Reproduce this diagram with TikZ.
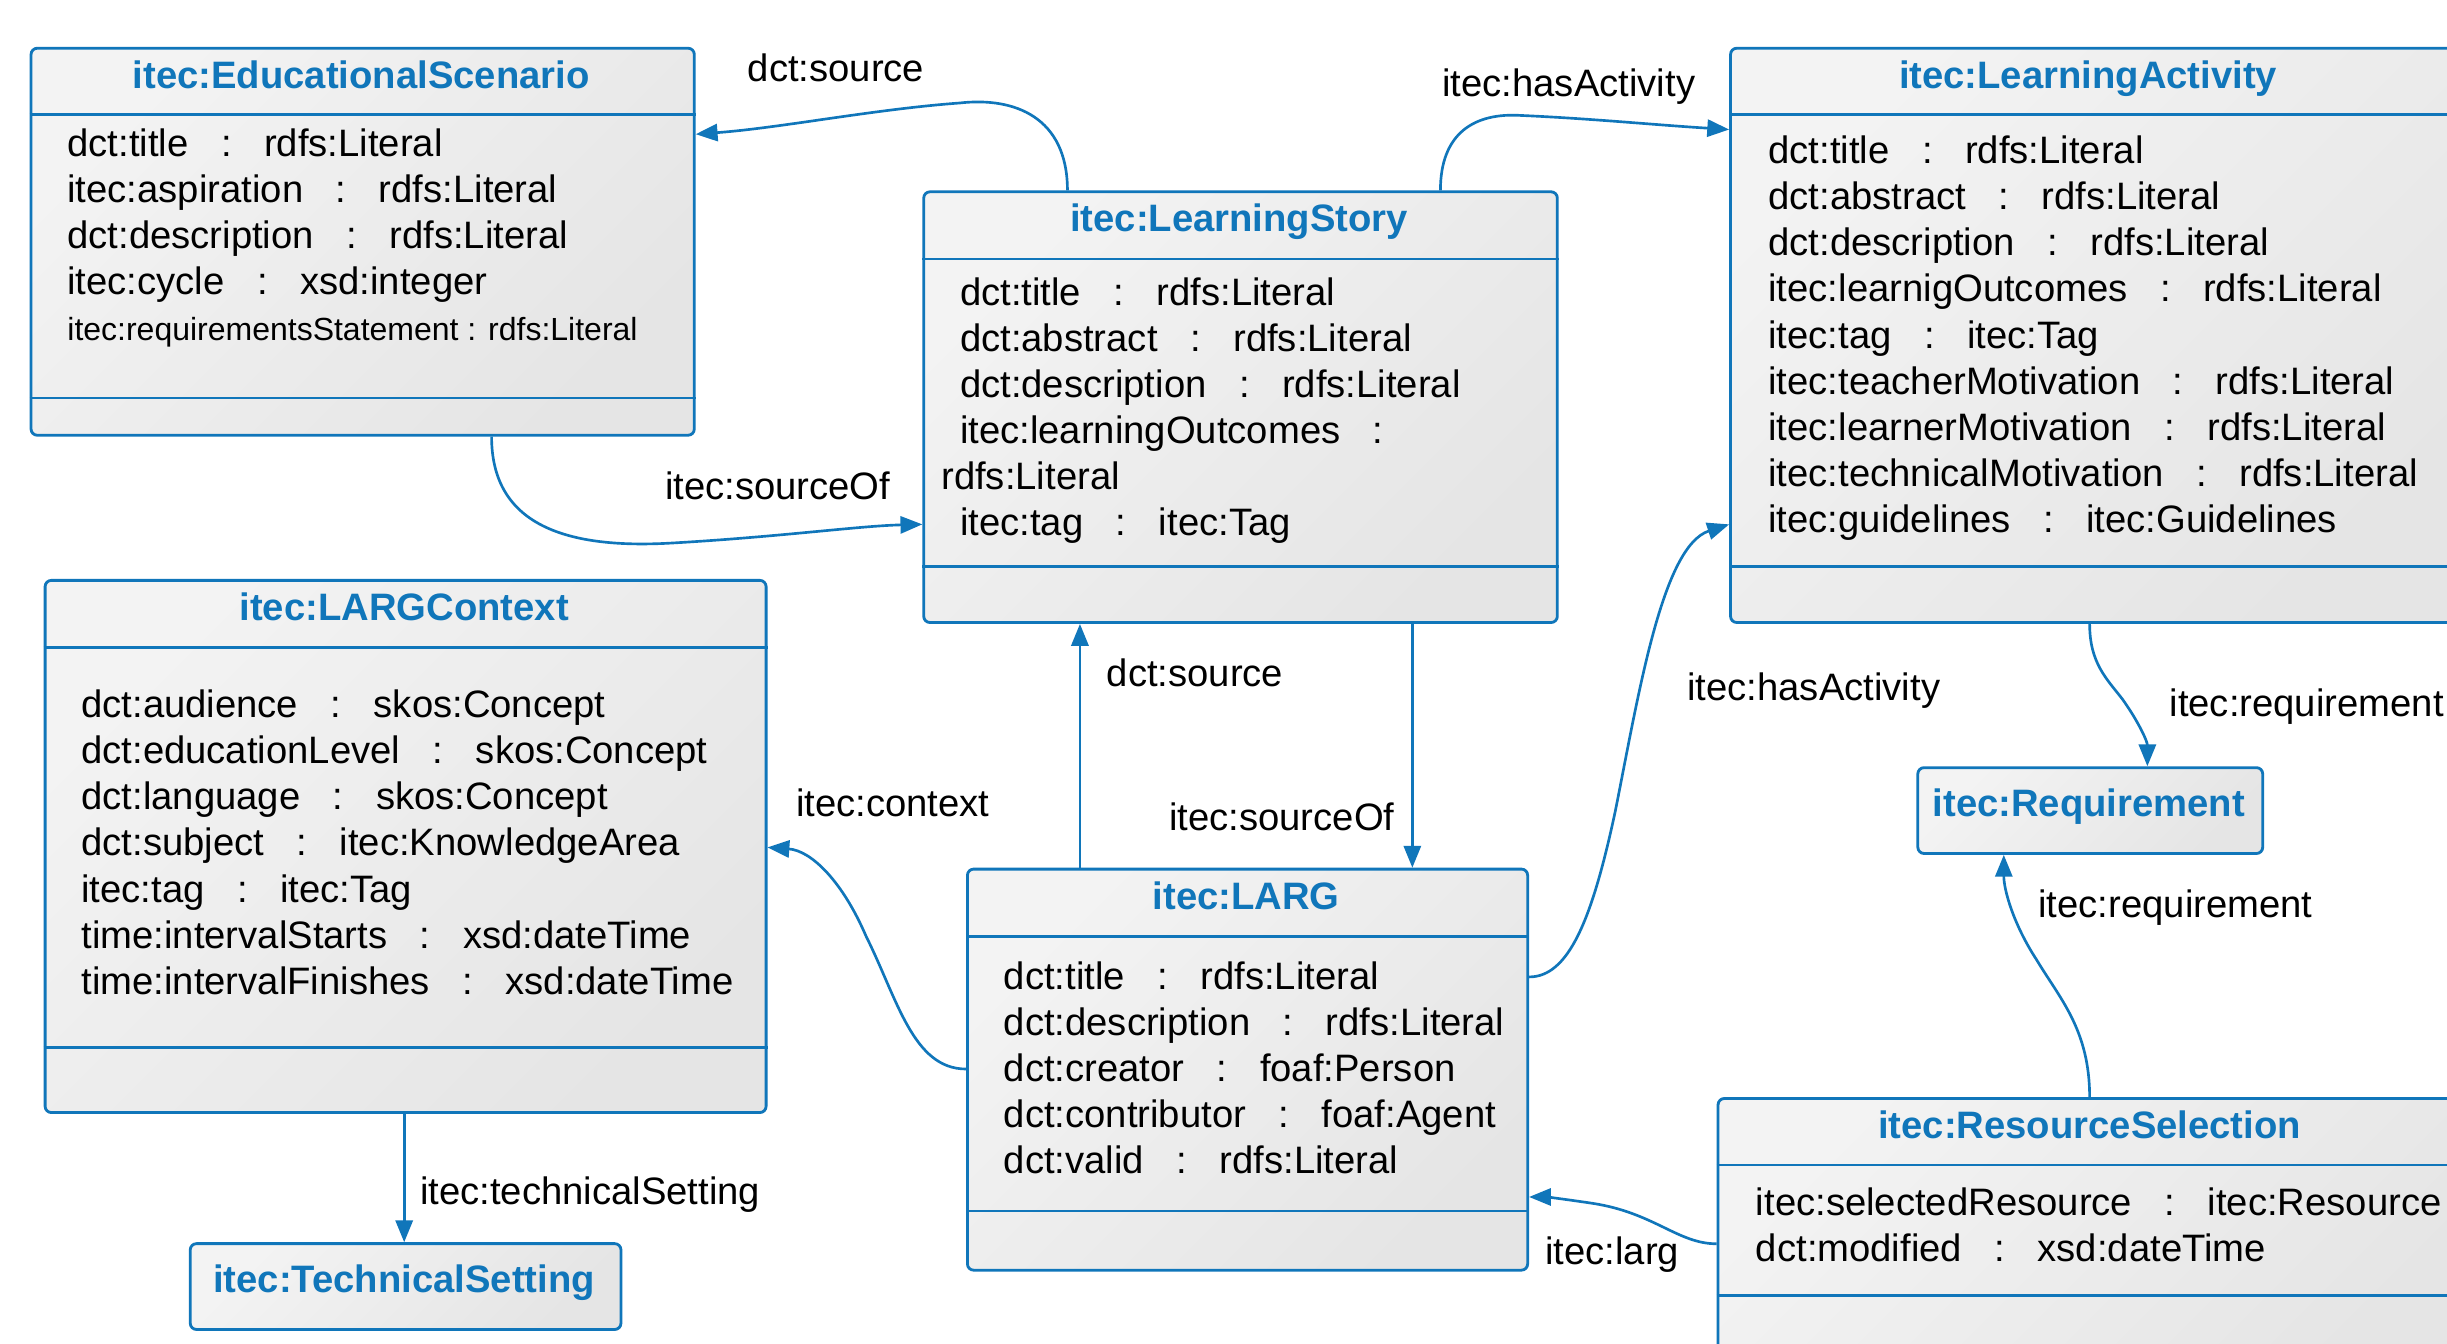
\documentclass[tikz,border=0pt]{standalone}
\usepackage{fontspec}
\setmainfont{Liberation Sans}
\usetikzlibrary{arrows.meta}
\definecolor{umlblue}{RGB}{16,118,186}
\definecolor{boxlight}{RGB}{243,243,243}
\definecolor{boxdark}{RGB}{229,229,229}
\newcommand\prop[2]{#1\hspace{.85em}:\hspace{.85em}#2}
\begin{document}
\begin{tikzpicture}[x=1pt,y=-1pt,
  box/.style={draw=umlblue, line width=1.8pt, rounded corners=4pt, top color=boxlight, bottom color=boxdark, shading angle=45, anchor=north west, inner sep=0pt},
  sepline/.style={draw=umlblue, line width=1.8pt},
  ttl/.style={font=\bfseries\fontsize{24.5}{29.5}\selectfont, text=umlblue, inner sep=0pt, anchor=base},
  attr/.style={font=\fontsize{24.5}{29.5}\selectfont, inner sep=0pt, anchor=base west},
  lbl/.style={font=\fontsize{24.5}{29.5}\selectfont, inner sep=0pt, anchor=base west},
  conn/.style={draw=umlblue, line width=1.7pt, -{Triangle[length=14pt,width=11pt]}}
]
\useasboundingbox (0,0) rectangle (1568,861);
\fill[white] (0,0) rectangle (1568,861);
\clip (0,0) rectangle (1568,861);

% ---------- EducationalScenario
\node[box, minimum width=425pt, minimum height=248pt] (es) at (19,30) {};
\draw[sepline] (es.west |- 0,73.5) -- (es.east |- 0,73.5);
\draw[sepline] (es.west |- 0,255) -- (es.east |- 0,255);
\node[ttl] (es-t) at (231.5,57) {itec:EducationalScenario};
\node[attr] (es-a1) at (43,100.5) {\prop{dct:title}{rdfs:Literal}};
\node[attr] (es-a2) at (43,130) {\prop{itec:aspiration}{rdfs:Literal}};
\node[attr] (es-a3) at (43,159.5) {\prop{dct:description}{rdfs:Literal}};
\node[attr] (es-a4) at (43,189) {\prop{itec:cycle}{xsd:integer}};
\node[attr, font=\fontsize{20.5}{24}\selectfont] (es-a5) at (43,218) {itec:requirementsStatement : rdfs:Literal};

% ---------- LearningStory
\node[box, minimum width=406pt, minimum height=276pt] (ls) at (591,122) {};
\draw[sepline] (ls.west |- 0,166) -- (ls.east |- 0,166);
\draw[sepline] (ls.west |- 0,363) -- (ls.east |- 0,363);
\node[ttl] (ls-t) at (794,148.5) {itec:LearningStory};
\node[attr] (ls-a1) at (615,195.5) {\prop{dct:title}{rdfs:Literal}};
\node[attr] (ls-a2) at (615,225) {\prop{dct:abstract}{rdfs:Literal}};
\node[attr] (ls-a3) at (615,254.5) {\prop{dct:description}{rdfs:Literal}};
\node[attr] (ls-a4) at (615,284) {itec:learningOutcomes\hspace{.85em}:};
\node[attr] (ls-a5) at (603,313.5) {rdfs:Literal};
\node[attr] (ls-a6) at (615,343) {\prop{itec:tag}{itec:Tag}};

% ---------- LearningActivity
\node[box, minimum width=470pt, minimum height=368pt] (la) at (1108,30) {};
\draw[sepline] (la.west |- 0,73.5) -- (la.east |- 0,73.5);
\draw[sepline] (la.west |- 0,363) -- (la.east |- 0,363);
\node[ttl] (la-t) at (1338,56.5) {itec:LearningActivity};
\node[attr] (la-a1) at (1133,105) {\prop{dct:title}{rdfs:Literal}};
\node[attr] (la-a2) at (1133,134.5) {\prop{dct:abstract}{rdfs:Literal}};
\node[attr] (la-a3) at (1133,164) {\prop{dct:description}{rdfs:Literal}};
\node[attr] (la-a4) at (1133,193.5) {\prop{itec:learnigOutcomes}{rdfs:Literal}};
\node[attr] (la-a5) at (1133,223) {\prop{itec:tag}{itec:Tag}};
\node[attr] (la-a6) at (1133,252.5) {\prop{itec:teacherMotivation}{rdfs:Literal}};
\node[attr] (la-a7) at (1133,282) {\prop{itec:learnerMotivation}{rdfs:Literal}};
\node[attr] (la-a8) at (1133,311.5) {\prop{itec:technicalMotivation}{rdfs:Literal}};
\node[attr] (la-a9) at (1133,341) {\prop{itec:guidelines}{itec:Guidelines}};

% ---------- LARGContext
\node[box, minimum width=462pt, minimum height=341pt] (lc) at (28,371) {};
\draw[sepline] (lc.west |- 0,415) -- (lc.east |- 0,415);
\draw[sepline] (lc.west |- 0,671) -- (lc.east |- 0,671);
\node[ttl] (lc-t) at (259,397.5) {itec:LARGContext};
\node[attr] (lc-a1) at (52,460) {\prop{dct:audience}{skos:Concept}};
\node[attr] (lc-a2) at (52,489.5) {\prop{dct:educationLevel}{skos:Concept}};
\node[attr] (lc-a3) at (52,519) {\prop{dct:language}{skos:Concept}};
\node[attr] (lc-a4) at (52,548.5) {\prop{dct:subject}{itec:KnowledgeArea}};
\node[attr] (lc-a5) at (52,578) {\prop{itec:tag}{itec:Tag}};
\node[attr] (lc-a6) at (52,607.5) {\prop{time:intervalStarts}{xsd:dateTime}};
\node[attr] (lc-a7) at (52,637) {\prop{time:intervalFinishes}{xsd:dateTime}};

% ---------- TechnicalSetting
\node[box, minimum width=276pt, minimum height=55pt] (ts) at (121,796) {};
\node[ttl] (ts-t) at (259,828.5) {itec:TechnicalSetting};

% ---------- LARG
\node[box, minimum width=359pt, minimum height=257pt] (larg) at (619,556) {};
\draw[sepline] (larg.west |- 0,600) -- (larg.east |- 0,600);
\draw[sepline] (larg.west |- 0,776) -- (larg.east |- 0,776);
\node[ttl] (larg-t) at (798.5,582.5) {itec:LARG};
\node[attr] (larg-a1) at (643,634) {\prop{dct:title}{rdfs:Literal}};
\node[attr] (larg-a2) at (643,663.5) {\prop{dct:description}{rdfs:Literal}};
\node[attr] (larg-a3) at (643,693) {\prop{dct:creator}{foaf:Person}};
\node[attr] (larg-a4) at (643,722.5) {\prop{dct:contributor}{foaf:Agent}};
\node[attr] (larg-a5) at (643,752) {\prop{dct:valid}{rdfs:Literal}};

% ---------- Requirement
\node[box, minimum width=221pt, minimum height=55pt] (rq) at (1228,491) {};
\node[ttl] (rq-t) at (1338.5,523.5) {itec:Requirement};

% ---------- ResourceSelection
\node[box, minimum width=478pt, minimum height=180pt] (rs) at (1100,703) {};
\draw[sepline] (rs.west |- 0,746.5) -- (rs.east |- 0,746.5);
\draw[sepline] (rs.west |- 0,830) -- (rs.east |- 0,830);
\node[ttl] (rs-t) at (1339,729.5) {itec:ResourceSelection};
\node[attr] (rs-a1) at (1125,779) {\prop{itec:selectedResource}{itec:Resource}};
\node[attr] (rs-a2) at (1125,808.5) {\prop{dct:modified}{xsd:dateTime}};

% ---------- connectors
\draw[conn] (684,0 |- ls.north) .. controls (684,75) and (650,62) .. (615,66)
  .. controls (560,70) and (500,82) .. (es.east |- 0,86);
\draw[conn] (923,0 |- ls.north) .. controls (923,85) and (945,72) .. (975,74)
  .. controls (1020,76) and (1060,80) .. (la.west |- 0,83);
\draw[conn] (315,0 |- es.south) .. controls (315,335) and (360,352) .. (430,348)
  .. controls (500,344) and (550,337) .. (ls.west |- 0,336);
\draw[conn] (692,0 |- larg.north) -- (692,0 |- ls.south);
\draw[conn] (905,0 |- ls.south) -- (905,0 |- larg.north);
\draw[conn] (larg.west |- 0,685) .. controls (585,685) and (575,640) .. (555,600)
  .. controls (540,565) and (520,545) .. (lc.east |- 0,543);
\draw[conn] (larg.east |- 0,626) .. controls (1005,626) and (1020,590) .. (1035,520)
  .. controls (1050,445) and (1065,350) .. (la.west |- 0,336);
\draw[conn] (259,0 |- lc.south) -- (259,0 |- ts.north);
\draw[conn] (1339,0 |- la.south) .. controls (1339,425) and (1350,435) .. (1360,448)
  .. controls (1370,462) and (1376,475) .. (1376,0 |- rq.north);
\draw[conn] (1339,0 |- rs.north) .. controls (1339,660) and (1320,640) .. (1305,615)
  .. controls (1290,592) and (1284,570) .. (1284,0 |- rq.south);
\draw[conn] (rs.west |- 0,797) .. controls (1075,797) and (1060,777) .. (1020,771)
  .. controls (1000,768) and (990,767) .. (larg.east |- 0,767);

% ---------- labels
\node[lbl] (l1) at (479,52) {dct:source};
\node[lbl] (l2) at (924,62) {itec:hasActivity};
\node[lbl] (l3) at (426,320) {itec:sourceOf};
\node[lbl] (l4) at (709,440) {dct:source};
\node[lbl] (l5) at (749,532) {itec:sourceOf};
\node[lbl] (l6) at (510,523) {itec:context};
\node[lbl] (l7) at (1081,449) {itec:hasActivity};
\node[lbl] (l8) at (269,772) {itec:technicalSetting};
\node[lbl] (l9) at (1390,459) {itec:requirement};
\node[lbl] (l10) at (1306,588) {itec:requirement};
\node[lbl] (l11) at (990,810) {itec:larg};
\end{tikzpicture}
\end{document}
